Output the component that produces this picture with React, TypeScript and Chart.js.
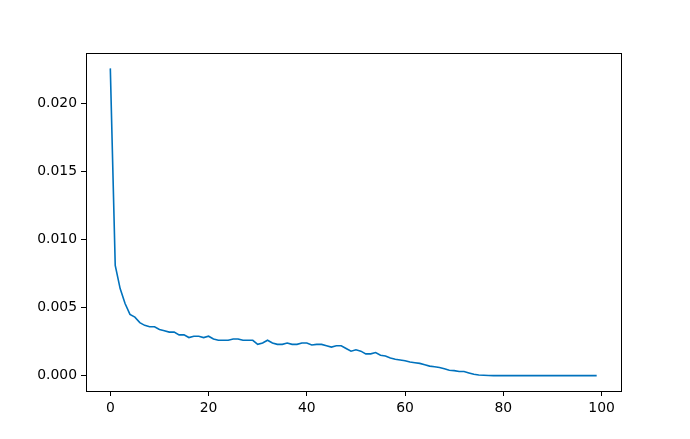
import React, { useEffect, useRef } from "react";
import { Chart, registerables } from "chart.js";

Chart.register(...registerables);

const xValues: number[] = Array.from({ length: 100 }, (_, i) => i);
const seriesValues: number[] = [
  0.0226, 0.0081, 0.0064, 0.0053, 0.0045, 0.0043, 0.0039, 0.0037, 0.0036, 0.0036,
  0.0034, 0.0033, 0.0032, 0.0032, 0.0030, 0.0030, 0.0028, 0.0029, 0.0029, 0.0028,
  0.0029, 0.0027, 0.0026, 0.0026, 0.0026, 0.0027, 0.0027, 0.0026, 0.0026, 0.0026,
  0.0023, 0.0024, 0.0026, 0.0024, 0.0023, 0.0023, 0.0024, 0.0023, 0.0023, 0.0024,
  0.0024, 0.00225, 0.0023, 0.0023, 0.0022, 0.0021, 0.0022, 0.0022, 0.0020, 0.0018,
  0.0019, 0.0018, 0.0016, 0.0016, 0.0017, 0.0015, 0.00145, 0.0013, 0.0012, 0.00115,
  0.0011, 0.0010, 0.00095, 0.0009, 0.0008, 0.0007, 0.00065, 0.0006, 0.0005, 0.0004,
  0.00037, 0.0003, 0.0003, 0.0002, 0.0001, 0.00005, 0.00003, 0.00001, 0, 0,
  0, 0, 0, 0, 0, 0, 0, 0, 0, 0,
  0, 0, 0, 0, 0, 0, 0, 0, 0, 0,
];
const xTicks: number[] = [0, 20, 40, 60, 80, 100];
const yTicks: number[] = [0, 0.005, 0.01, 0.015, 0.02];

const frame = {
  id: "frame",
  afterDatasetsDraw(chart: any) {
    const { ctx, chartArea } = chart;
    ctx.save();
    ctx.strokeStyle = "#000";
    ctx.lineWidth = 1;
    ctx.strokeRect(
      Math.round(chartArea.left) + 0.5,
      Math.round(chartArea.top) + 0.5,
      Math.round(chartArea.right - chartArea.left),
      Math.round(chartArea.bottom - chartArea.top)
    );
    ctx.restore();
  },
};

export default function App() {
  const ref = useRef<HTMLCanvasElement>(null);
  useEffect(() => {
    if (!ref.current) return;
    const xMinD = Math.min(...xValues);
    const xMaxD = Math.max(...xValues);
    const yMinD = Math.min(...seriesValues);
    const yMaxD = Math.max(...seriesValues);
    const xm = (xMaxD - xMinD) * 0.05;
    const ym = (yMaxD - yMinD) * 0.05;
    const font = { family: "DejaVu Sans", size: 13.9 };
    const chart = new Chart(ref.current, {
      type: "line",
      data: {
        datasets: [
          {
            data: xValues.map((x, i) => ({ x, y: seriesValues[i] })),
            borderColor: "#0072BD",
            borderWidth: 1.6,
            pointRadius: 0,
            tension: 0,
            fill: false,
          },
        ],
      },
      options: {
        animation: false,
        responsive: false,
        maintainAspectRatio: false,
        layout: { padding: { left: 0, right: 69, top: 53, bottom: 0 } },
        plugins: { legend: { display: false }, tooltip: { enabled: false } },
        scales: {
          x: {
            type: "linear",
            min: xMinD - xm,
            max: xMaxD + xm,
            afterBuildTicks: (s: any) => {
              s.ticks = xTicks.map((v) => ({ value: v }));
            },
            afterFit: (s: any) => {
              s.height = 48;
            },
            grid: {
              drawOnChartArea: false,
              drawTicks: true,
              tickLength: 5,
              tickColor: "#000",
            },
            border: { display: true, color: "#000" },
            ticks: {
              color: "#000",
              font,
              padding: 4,
              maxRotation: 0,
              callback: (v: any) => String(v),
            },
          },
          y: {
            type: "linear",
            min: yMinD - ym,
            max: yMaxD + ym,
            afterBuildTicks: (s: any) => {
              s.ticks = yTicks.map((v) => ({ value: v }));
            },
            afterFit: (s: any) => {
              s.width = 86;
            },
            grid: {
              drawOnChartArea: false,
              drawTicks: true,
              tickLength: 5,
              tickColor: "#000",
            },
            border: { display: true, color: "#000" },
            ticks: {
              color: "#000",
              font,
              padding: 4,
              callback: (v: any) => Number(v).toFixed(3),
            },
          },
        },
      },
      plugins: [frame],
    });
    return () => chart.destroy();
  }, []);
  return (
    <div style={{ position: "fixed", left: 0, top: 0, width: 690, height: 439, background: "#fff" }}>
      <canvas ref={ref} width={690} height={439} style={{ width: 690, height: 439 }} />
    </div>
  );
}
